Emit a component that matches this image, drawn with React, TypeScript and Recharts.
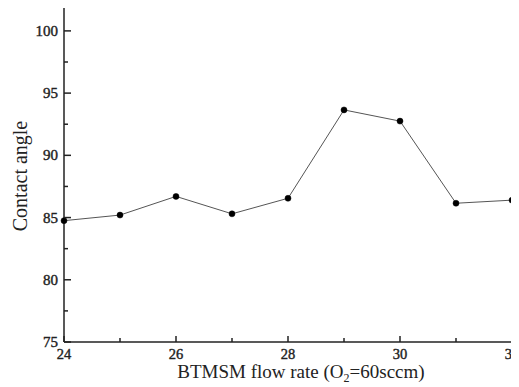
import * as React from 'react';
import { LineChart, Line, XAxis, YAxis, Label } from 'recharts';

// BTMSM flow rate (sccm)
const flowRates = [24, 25, 26, 27, 28, 29, 30, 31, 32];
// contact angle (deg)
const contactAngles = [84.75, 85.2, 86.7, 85.3, 86.55, 93.65, 92.75, 86.15, 86.4];

const xTicks = [24, 25, 26, 27, 28, 29, 30, 31, 32];
const yTicks = [75, 77.5, 80, 82.5, 85, 87.5, 90, 92.5, 95, 97.5, 100];

const data = flowRates.map((f, i) => ({ flow: f, angle: contactAngles[i] }));

const FONT = '"Liberation Serif", "Times New Roman", serif';
const AXIS = '#222';

// ticks point inward, minor ones shorter and unlabeled
const XTick = (props: any) => {
  const { x, y, payload } = props;
  const major = payload.value % 2 === 0;
  return (
    <g>
      <path d={`M${x},${y}V${y - (major ? 6 : 4)}`} stroke={AXIS} strokeWidth={1.5} fill="none" />
      {major && (
        <text x={x} y={y + 17} textAnchor="middle" fontFamily={FONT} fontSize={14.5} fill="#222" stroke="#222" strokeWidth={0.4}>
          {payload.value}
        </text>
      )}
    </g>
  );
};

const YTick = (props: any) => {
  const { x, y, payload } = props;
  const major = payload.value % 5 === 0;
  return (
    <g>
      <path d={`M${x},${y}H${x + (major ? 7 : 4)}`} stroke={AXIS} strokeWidth={1.5} fill="none" />
      {major && (
        <text x={x - 6} y={y + 5} textAnchor="end" fontFamily={FONT} fontSize={15} fill="#222" stroke="#222" strokeWidth={0.4}>
          {payload.value}
        </text>
      )}
    </g>
  );
};

export default function App() {
  return (
    <div style={{ margin: '-8px 0 0 -8px', width: 519, height: 387, background: '#fff' }}>
      <LineChart width={519} height={387} data={data} margin={{ top: 6, right: 7, bottom: 0, left: 0 }}>
        <XAxis
          dataKey="flow"
          type="number"
          domain={[24, 32]}
          ticks={xTicks}
          interval={0}
          height={45}
          tickSize={0}
          tickMargin={0}
          tick={<XTick />}
          axisLine={{ stroke: AXIS, strokeWidth: 1.5 }}
          tickLine={false}
        >
          <Label
            content={() => (
              <text x={301} y={378} textAnchor="middle" fontFamily={FONT} fontSize={19} fill="#222">
                BTMSM flow rate (O<tspan fontSize={12} dy={4}>2</tspan>
                <tspan dy={-4}>=60sccm)</tspan>
              </text>
            )}
          />
        </XAxis>
        <XAxis xAxisId="top" orientation="top" dataKey="flow" type="number" domain={[24, 32]} height={0} tick={false} tickLine={false} axisLine={{ stroke: AXIS, strokeWidth: 1.5 }} />
        <YAxis
          type="number"
          domain={[75, 102]}
          ticks={yTicks}
          interval={0}
          width={64}
          tickSize={0}
          tickMargin={0}
          tick={<YTick />}
          axisLine={{ stroke: AXIS, strokeWidth: 1.5 }}
          tickLine={false}
          allowDataOverflow
        >
          <Label
            content={() => (
              <text x={27} y={176} transform="rotate(-90 27 176)" textAnchor="middle" fontFamily={FONT} fontSize={20} fill="#222">
                Contact angle
              </text>
            )}
          />
        </YAxis>
        <YAxis yAxisId="right" orientation="right" domain={[75, 102]} width={0} tick={false} tickLine={false} axisLine={{ stroke: AXIS, strokeWidth: 1.5 }} />
        <Line
          dataKey="angle"
          stroke="#555"
          strokeWidth={1}
          dot={{ r: 3, fill: '#000', stroke: '#000', strokeWidth: 0.5 }}
          isAnimationActive={false}
        />
      </LineChart>
    </div>
  );
}
